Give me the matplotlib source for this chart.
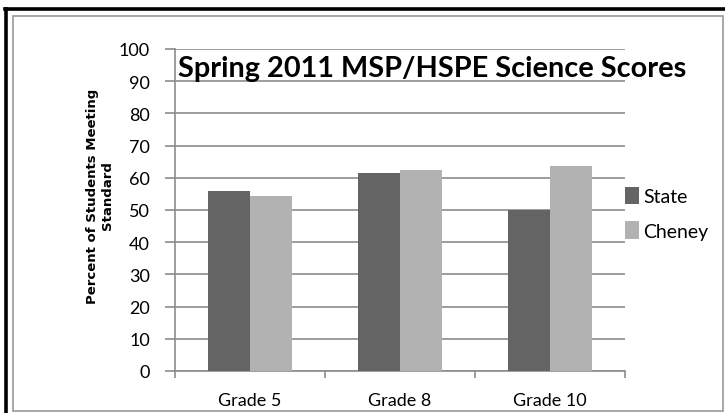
import matplotlib.pyplot as plt
import numpy as np
from matplotlib.patches import Rectangle
from matplotlib.lines import Line2D

# Data
grades = ["Grade 5", "Grade 8", "Grade 10"]
state = [55.9, 61.6, 50.0]
cheney = [54.4, 62.5, 63.8]
series_names = ["State", "Cheney"]
yticks = list(range(0, 101, 10))

STATE_COLOR = "#646464"
CHENEY_COLOR = "#b2b2b2"
GRID_COLOR = "#8c8c8c"
FONT = ["Lato", "DejaVu Sans"]

W, H = 725, 414
fig = plt.figure(figsize=(W / 100, H / 100), dpi=100)

# outer black frame (top + left) and inner grey frame
fig.add_artist(Line2D([5 / W, 1], [1 - 9.5 / H, 1 - 9.5 / H], color="black", lw=2.6))
fig.add_artist(Line2D([6 / W, 6 / W], [0, 1 - 9.5 / H], color="black", lw=2.6))
fig.add_artist(Rectangle((13.5 / W, 2.5 / H), (723 - 13.5) / W, (411.5 - 16.5) / H,
                         fill=False, edgecolor="#a0a0a0", lw=1.3))

ax = fig.add_axes([175 / W, 1 - 372 / H, 450 / W, 322 / H])
x = np.arange(len(grades))
bw = 0.28
ax.bar(x - bw / 2, state, bw, color=STATE_COLOR, label=series_names[0], zorder=3)
ax.bar(x + bw / 2, cheney, bw, color=CHENEY_COLOR, label=series_names[1], zorder=3)

ax.set_xlim(-0.5, len(grades) - 0.5)
ax.set_ylim(0, 100)
ax.set_yticks(yticks)
ax.yaxis.grid(True, color=GRID_COLOR, lw=1.2, zorder=0)
ax.set_axisbelow(True)

ax.set_xticks(x)
ax.set_xticklabels(grades)
ax.set_xticks(np.arange(-0.5, len(grades), 1), minor=True)
ax.tick_params(axis="x", which="major", length=0, pad=15)
ax.tick_params(axis="x", which="minor", length=5, color=GRID_COLOR, width=1.2)
ax.tick_params(axis="y", length=7, color=GRID_COLOR, width=1.2, pad=11)
for lab in ax.get_xticklabels() + ax.get_yticklabels():
    lab.set_family(FONT)
    lab.set_fontsize(13)

for s in ["top", "right"]:
    ax.spines[s].set_visible(False)
for s in ["left", "bottom"]:
    ax.spines[s].set_color(GRID_COLOR)
    ax.spines[s].set_linewidth(1.2)

ax.text(0.571, 0.917, "Spring 2011 MSP/HSPE Science Scores", transform=ax.transAxes,
        ha="center", va="baseline", fontsize=20.8, fontweight="bold", family=FONT)

fig.text(100 / W, 1 - 196 / H, "Percent of Students Meeting\nStandard", rotation=90,
         ha="center", va="center", fontsize=9.5, fontweight="bold",
         family=["DejaVu Sans"], linespacing=1.2)

leg = ax.legend(loc="center left", bbox_to_anchor=(1.0, 0.49), frameon=False,
                borderaxespad=0, borderpad=0,
                handlelength=0.7, handleheight=1.0, handletextpad=0.25,
                labelspacing=0.85, prop={"family": FONT, "size": 14})

fig.savefig("out.png", dpi=100)
